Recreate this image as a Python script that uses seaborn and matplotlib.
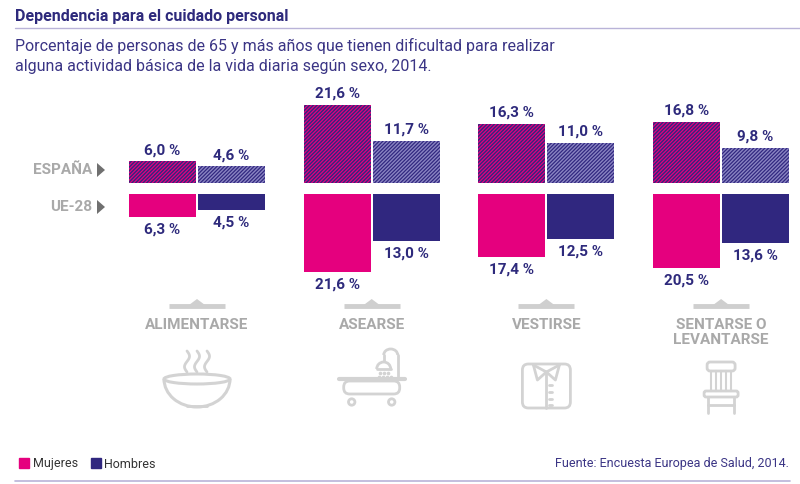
import pandas as pd
import seaborn as sns
import matplotlib.pyplot as plt
import numpy as np
from matplotlib.patches import Patch, Ellipse, Arc, FancyBboxPatch, Polygon, Circle

# Data
categorias = ["ALIMENTARSE", "ASEARSE", "VESTIRSE", "SENTARSE O\nLEVANTARSE"]
sexos = ["Mujeres", "Hombres"]
espana_mujeres = [6.0, 21.6, 16.3, 16.8]
espana_hombres = [4.6, 11.7, 11.0, 9.8]
ue_mujeres = [6.3, 21.6, 17.4, 20.5]
ue_hombres = [4.5, 13.0, 12.5, 13.6]

MAGENTA = "#e5007e"
NAVY = "#30277f"
TXT = "#2e2a7c"
GREY = "#a9a9a9"
ICON = "#d3d3d3"

sns.set_style("white")
plt.rcParams["font.family"] = ["Roboto", "DejaVu Sans"]
plt.rcParams["hatch.linewidth"] = 1.0

df_es = pd.DataFrame({
    "cat": categorias * 2,
    "sexo": ["Mujeres"] * 4 + ["Hombres"] * 4,
    "valor": espana_mujeres + espana_hombres,
})
df_ue = pd.DataFrame({
    "cat": categorias * 2,
    "sexo": ["Mujeres"] * 4 + ["Hombres"] * 4,
    "valor": [-v for v in ue_mujeres + ue_hombres],
})

W, H = 800, 484
fig = plt.figure(figsize=(W / 100, H / 100), dpi=100)

# background axes for decorations, in pixel units (y down)
deco = fig.add_axes([0, 0, 1, 1])
deco.set_xlim(0, W)
deco.set_ylim(H, 0)
deco.axis("off")

px_per = 3.62  # pixels per percentage point
x0 = 197
step = 174.7
xlim = (-x0 / step, (W - x0) / step)

ax_es = fig.add_axes([0, 1 - 183 / H, 1, 103 / H])
ax_ue = fig.add_axes([0, 1 - 300 / H, 1, 106 / H])

pal = {"Mujeres": MAGENTA, "Hombres": NAVY}
sns.barplot(data=df_es, x="cat", y="valor", hue="sexo", hue_order=sexos,
            palette=pal, width=0.79, gap=0.03, legend=False, ax=ax_es,
            saturation=1, linewidth=0)
sns.barplot(data=df_ue, x="cat", y="valor", hue="sexo", hue_order=sexos,
            palette=pal, width=0.79, gap=0.03, legend=False, ax=ax_ue,
            saturation=1, linewidth=0)

ax_es.set_ylim(0, 103 / px_per)
ax_ue.set_ylim(-106 / px_per, 0)

# hatching for Spain bars
hatch_cols = [NAVY, "#8a84c2"]
for cont, hc in zip(ax_es.containers, hatch_cols):
    for p in cont:
        p.set_hatch("/" * 9)
        p.set_edgecolor(hc)
        p.set_linewidth(0)

def fmt(v):
    return f"{abs(v):.1f}".replace(".", ",") + " %"

for ax, pad in [(ax_es, 3), (ax_ue, 4)]:
    for cont in ax.containers:
        ax.bar_label(cont, labels=[fmt(p.get_height()) for p in cont],
                     padding=pad, fontsize=11, fontweight="bold", color=TXT)

for ax in (ax_es, ax_ue):
    ax.set_xlim(*xlim)
    ax.set_xlabel("")
    ax.set_ylabel("")
    ax.set_yticks([])
    ax.patch.set_alpha(0)
    for s in ax.spines.values():
        s.set_visible(False)

ax_es.set_xticks([])
ax_ue.set_xticks(range(len(categorias)))
ax_ue.set_xticklabels(categorias, fontsize=11, fontweight="bold",
                      color=GREY, linespacing=1.1, va="top")
ax_ue.tick_params(axis="x", length=0, pad=13)

# row labels
deco.text(92, 170, "ESPAÑA", ha="right", va="center", fontsize=11,
          fontweight="bold", color=GREY)
deco.text(92, 207, "UE-28", ha="right", va="center", fontsize=11,
          fontweight="bold", color=GREY)
for y in (170, 207):
    deco.add_patch(Polygon([[97, y - 7], [97, y + 7], [105, y]],
                           closed=True, color="#707070", lw=0))

# category centres in pixels
centres = [ax_ue.transData.transform((i, 0))[0] for i in range(len(categorias))]

for cx in centres:
    deco.plot([cx - 28, cx + 28], [306, 306], color="#cfcfcf", lw=3.5,
              solid_capstyle="butt")
    deco.add_patch(Polygon([[cx - 8, 305], [cx + 8, 305], [cx, 299]],
                           closed=True, color="#cfcfcf", lw=0))

kw = dict(color=ICON, lw=2, solid_capstyle="round")

# bowl
cx = centres[0]
deco.add_patch(Ellipse((cx, 379), 66, 10, fill=False, ec=ICON, lw=2.2))
deco.add_patch(Arc((cx, 379), 66, 56, theta1=0, theta2=180, ec=ICON, lw=2.2))
deco.plot([cx - 10, cx + 10], [406, 406], **kw)
ys = np.linspace(351, 372, 30)
for dx in (-10, 0, 10):
    deco.plot(cx + dx + 2.5 * np.sin((ys - 351) / 21 * 2 * np.pi), ys, **kw)

# bathtub
cx = centres[1]
deco.plot([cx - 33, cx + 33], [379, 379], color=ICON, lw=3, solid_capstyle="round")
deco.add_patch(FancyBboxPatch((cx - 28, 381), 56, 13,
                              boxstyle="round,pad=0,rounding_size=6",
                              fill=False, ec=ICON, lw=2))
for dx in (-20, 20):
    deco.add_patch(Circle((cx + dx, 402), 3.2, fill=False, ec=ICON, lw=2))
deco.plot([cx + 26, cx + 26], [379, 355], **kw)
deco.add_patch(Arc((cx + 19, 355), 14, 12, theta1=180, theta2=360, ec=ICON, lw=2))
deco.plot([cx + 12, cx + 12], [355, 361], **kw)
deco.add_patch(Arc((cx + 12, 369), 14, 14, theta1=180, theta2=360, ec=ICON, lw=2))
deco.plot([cx + 5, cx + 19], [369, 369], **kw)
for dx, dy in [(-4, 373), (0, 373), (4, 373), (-5, 377), (-1, 377), (3, 377), (7, 377)]:
    deco.plot([cx + 12 + dx], [dy], "o", ms=1.6, color=ICON)

# shirt
cx = centres[2]
deco.add_patch(FancyBboxPatch((cx - 24, 364), 48, 44,
                              boxstyle="round,pad=0,rounding_size=6",
                              fill=False, ec=ICON, lw=2))
deco.plot([cx - 13, cx, cx + 13], [365, 372, 365], **kw)
deco.plot([cx - 13, cx - 9, cx], [365, 380, 372], **kw)
deco.plot([cx + 13, cx + 9, cx], [365, 380, 372], **kw)
deco.plot([cx, cx], [372, 408], **kw)
for y in (385, 392, 399, 405):
    deco.plot([cx + 3, cx + 6], [y, y], **kw)

# chair
cx = centres[3]
deco.add_patch(FancyBboxPatch((cx - 14, 362), 28, 9,
                              boxstyle="round,pad=0,rounding_size=3",
                              fill=False, ec=ICON, lw=2))
for dx in (-10, -5, 0, 5, 10):
    deco.plot([cx + dx, cx + dx], [371, 391], color=ICON, lw=1.5)
deco.add_patch(FancyBboxPatch((cx - 17, 391), 34, 6,
                              boxstyle="round,pad=0,rounding_size=2",
                              fill=False, ec=ICON, lw=2))
for dx in (-13, 13):
    deco.plot([cx + dx, cx + dx], [397, 413], **kw)
deco.plot([cx - 13, cx + 13], [405, 405], **kw)

# title, subtitle, lines
fig.text(15 / W, 1 - 16 / H, "Dependencia para el cuidado personal",
         fontsize=11.5, fontweight="bold", color=TXT, va="center")
deco.plot([15, W], [28, 28], color="#b9b3d8", lw=1)
fig.text(15 / W, 1 - 46 / H,
         "Porcentaje de personas de 65 y más años que tienen dificultad para realizar",
         fontsize=11.5, color="#3b3585", va="center")
fig.text(15 / W, 1 - 67 / H,
         "alguna actividad básica de la vida diaria según sexo, 2014.",
         fontsize=11.5, color="#3b3585", va="center")

# legend and source
handles = [Patch(color=pal[s], label=s) for s in sexos]
fig.legend(handles=handles, loc="center left", bbox_to_anchor=(8 / W, 1 - 464 / H),
           ncol=2, frameon=False, fontsize=9, handlelength=0.8, handleheight=0.8,
           handletextpad=0.3, columnspacing=1.0, labelcolor="#333333")
fig.text(789 / W, 1 - 464 / H, "Fuente: Encuesta Europea de Salud, 2014.",
         ha="right", va="center", fontsize=9, color="#3b3585")
deco.plot([15, 790], [481, 481], color="#b9b3d8", lw=1.2)

fig.savefig("out.png", dpi=100)
